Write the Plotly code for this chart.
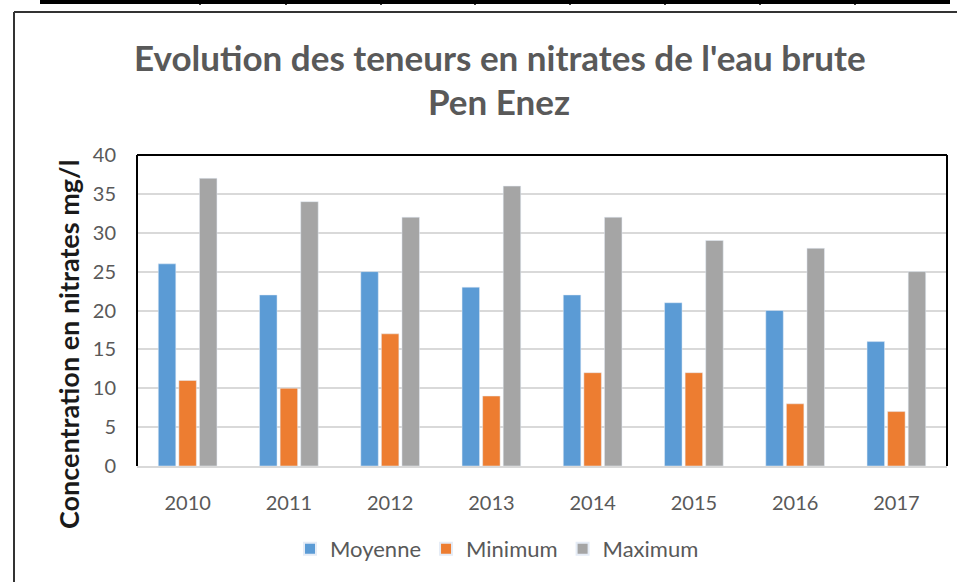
import plotly.graph_objects as go

years = ["2010", "2011", "2012", "2013", "2014", "2015", "2016", "2017"]
moyenne = [26, 22, 25, 23, 22, 21, 20, 16]
minimum = [11, 10, 17, 9, 12, 12, 8, 7]
maximum = [37, 34, 32, 36, 32, 29, 28, 25]
y_ticks = [0, 5, 10, 15, 20, 25, 30, 35, 40]

W, H = 957, 582
L, R, T, B = 137, 947, 155, 466  # plot area in pixels
pw, ph = R - L, B - T

def px(x):
    return (x - L) / pw

def py(y):
    return (B - y) / ph

FONT = "Lato"
GRAY = "#595959"

fig = go.Figure()
fig.add_trace(go.Bar(name="Moyenne", x=years, y=moyenne, marker_color="#5B9BD5"))
fig.add_trace(go.Bar(name="Minimum", x=years, y=minimum, marker_color="#ED7D31"))
fig.add_trace(go.Bar(name="Maximum", x=years, y=maximum, marker_color="#A5A5A5"))

shapes = []
# plot box: black left/top/right, gray bottom
shapes.append(dict(type="line", xref="paper", yref="paper", x0=0, x1=0, y0=0, y1=1,
                   line=dict(color="black", width=2)))
shapes.append(dict(type="line", xref="paper", yref="paper", x0=0, x1=1, y0=1, y1=1,
                   line=dict(color="black", width=2)))
shapes.append(dict(type="line", xref="paper", yref="paper", x0=1, x1=1, y0=0, y1=1,
                   line=dict(color="black", width=2)))
# outer chart border
shapes.append(dict(type="line", xref="paper", yref="paper", x0=px(14), x1=px(960), y0=py(12), y1=py(12),
                   line=dict(color="#333333", width=2)))
shapes.append(dict(type="line", xref="paper", yref="paper", x0=px(14), x1=px(14), y0=py(12), y1=py(590),
                   line=dict(color="#333333", width=2)))
# top table fragment
shapes.append(dict(type="rect", xref="paper", yref="paper", x0=px(40), x1=px(950), y0=py(0), y1=py(4),
                   line=dict(width=0), fillcolor="black"))
for xv in [200, 286, 381, 475, 570, 665, 760, 855]:
    shapes.append(dict(type="line", xref="paper", yref="paper", x0=px(xv), x1=px(xv), y0=py(0), y1=py(5),
                       line=dict(color="black", width=1.5)))

annotations = [
    dict(text="Evolution des teneurs en nitrates de l'eau brute", xref="paper", yref="paper",
         x=px(500), y=py(57), showarrow=False, xanchor="center", yanchor="middle",
         font=dict(family=FONT, size=35, color=GRAY, weight="bold")),
    dict(text="Pen Enez", xref="paper", yref="paper",
         x=px(499), y=py(101), showarrow=False, xanchor="center", yanchor="middle",
         font=dict(family=FONT, size=35, color=GRAY, weight="bold")),
    dict(text="Concentration en nitrates mg/l", xref="paper", yref="paper",
         x=px(68), y=py(345), showarrow=False, xanchor="center", yanchor="middle", textangle=-90,
         font=dict(family=FONT, size=27, color="#1a1a1a", weight="bold")),
]

fig.update_layout(
    width=W, height=H,
    margin=dict(l=L, r=W - R, t=T, b=H - B, pad=0),
    paper_bgcolor="white", plot_bgcolor="white",
    barmode="group", bargap=0.39, bargroupgap=0.15,
    showlegend=True,
    legend=dict(orientation="h", x=px(497), y=py(549), xanchor="center", yanchor="middle",
                font=dict(family=FONT, size=22, color=GRAY), itemsizing="constant"),
    shapes=shapes, annotations=annotations,
    xaxis=dict(showgrid=False, showline=True, linecolor="#D9D9D9", linewidth=2,
               tickfont=dict(family=FONT, size=20, color=GRAY), ticks="", ticklabelstandoff=18),
    yaxis=dict(range=[0, 40], tickvals=y_ticks, showgrid=True, gridcolor="#D9D9D9", gridwidth=2,
               zeroline=False, showline=False, ticks="",
               tickfont=dict(family=FONT, size=20, color=GRAY), ticklabelstandoff=20),
)

fig.write_html("out.html", config={"displayModeBar": False},
               post_script="document.body.style.margin='0';document.body.style.overflow='hidden';")
